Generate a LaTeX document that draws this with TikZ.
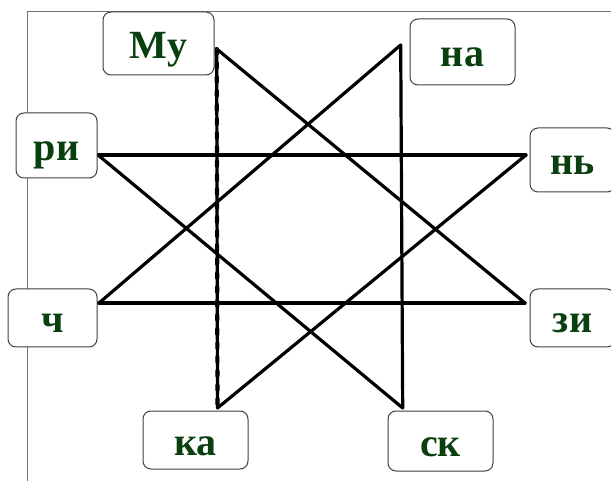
\documentclass[tikz,border=0pt]{standalone}
\usepackage{fontspec}
\setmainfont{Liberation Serif}
\definecolor{silbengruen}{RGB}{10,64,16}
\tikzset{
  silbe/.style={draw=black!75, line width=1pt, rounded corners=8pt, fill=white,
    font=\bfseries\fontsize{40}{40}\selectfont, text=silbengruen,
    text height=30pt, text depth=0pt, inner sep=0pt},
  strich/.style={line width=3.2pt, line cap=round},
  rauh/.style={strich, postaction={draw, line width=4.2pt, dash pattern=on 5pt off 9pt}}
}

\begin{document}
\begin{tikzpicture}[x=1pt, y=-1pt]
    \useasboundingbox (0,0) rectangle (611,481);
    % Rahmen:
    \draw[black!55, line width=0.8pt] (27,481) -- (27,11) -- (611,11);
    % Ecken des Sterns:
    \coordinate (ecke-mu) at (216.7,49);
    \coordinate (ecke-na) at (400.7,45);
    \coordinate (ecke-ri) at (98,155);
    \coordinate (ecke-nn) at (526,155);
    \coordinate (ecke-ch) at (99,303);
    \coordinate (ecke-zi) at (525,303);
    \coordinate (ecke-ka) at (217.5,408);
    \coordinate (ecke-sk) at (402.7,408);
    % Senkrechte und Waagerechte:
    \draw[rauh] (ecke-mu) -- (ecke-ka); % linker Strich
    \draw[strich] (ecke-na) -- (ecke-sk); % rechter Strich
    \draw[rauh] (ecke-ri) -- (ecke-nn); % oberer Strich
    \draw[rauh] (ecke-ch) -- (ecke-zi); % unterer Strich
    % Schraege:
    \draw[strich] (ecke-mu) -- (ecke-zi);
    \draw[strich] (ecke-na) -- (ecke-ch);
    \draw[strich] (ecke-ri) -- (ecke-sk);
    \draw[strich] (ecke-nn) -- (ecke-ka);
    % Silben:
    \node[silbe, minimum width=111pt, minimum height=63pt] (mu) at (158.5,43.5) {Му};
    \node[silbe, minimum width=105pt, minimum height=66pt] (na) at (462.5,52) {на};
    \node[silbe, minimum width=81pt, minimum height=65pt] (ri) at (56.5,145.5) {ри};
    \node[silbe, minimum width=85pt, minimum height=64pt] (nn) at (572.5,160) {нь};
    \node[silbe, minimum width=89pt, minimum height=58pt] (ch) at (52.5,318) {ч};
    \node[silbe, minimum width=85pt, minimum height=58pt] (zi) at (572.5,318) {зи};
    \node[silbe, minimum width=105pt, minimum height=58pt] (ka) at (195.5,440) {ка};
    \node[silbe, minimum width=105pt, minimum height=60pt] (sk) at (440.5,441) {ск};
\end{tikzpicture}
\end{document}
